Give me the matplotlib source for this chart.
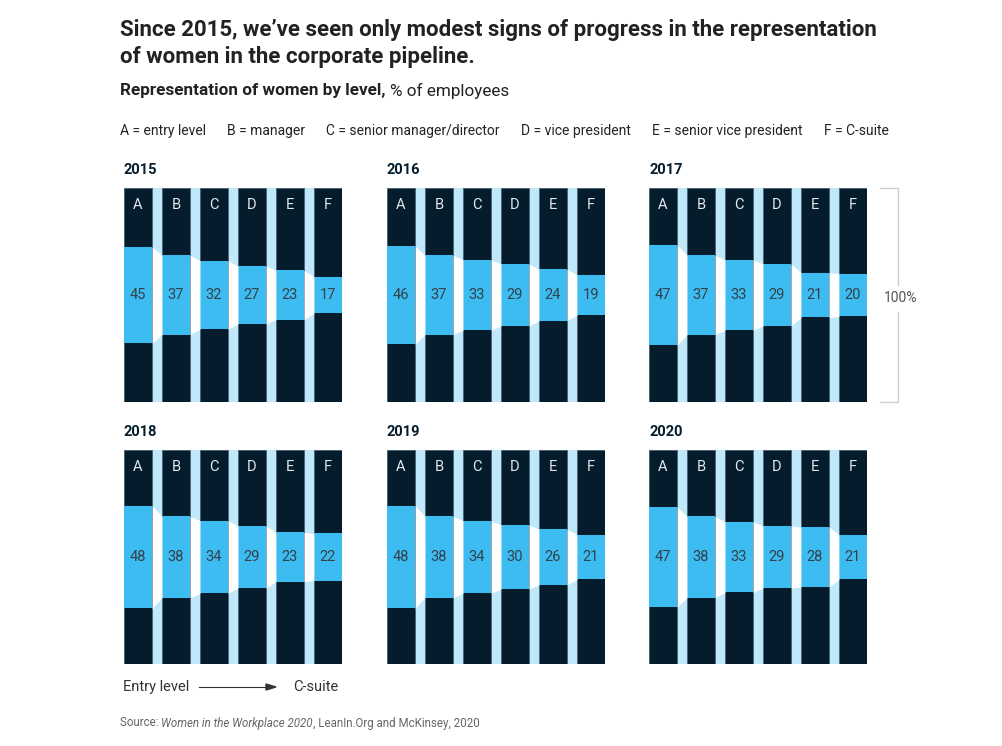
"""Representation of women by level, 2015-2020"""

import matplotlib.pyplot as plt

levels = ['A', 'B', 'C', 'D', 'E', 'F']
years = ['2015', '2016', '2017', '2018', '2019', '2020']
women_2015 = [45, 37, 32, 27, 23, 17]
women_2016 = [46, 37, 33, 29, 24, 19]
women_2017 = [47, 37, 33, 29, 21, 20]
women_2018 = [48, 38, 34, 29, 23, 22]
women_2019 = [48, 38, 34, 30, 26, 21]
women_2020 = [47, 38, 33, 29, 28, 21]
legend_items = ['A = entry level', 'B = manager', 'C = senior manager/director',
                'D = vice president', 'E = senior vice president', 'F = C-suite']

NAVY = '#051c2c'
BLUE = '#3cbcf0'
PALE = '#bfe9fb'
TEXT = '#222222'

plt.rcParams['font.family'] = ['Roboto', 'DejaVu Sans']

W, H = 1003, 746
fig = plt.figure(figsize=(W / 100, H / 100), dpi=100)
fig.canvas.draw()
renderer = fig.canvas.get_renderer()


def fx(px):
    return px / W


def fy(py):
    return 1 - py / H


def draw_panel(left, top, year, values):
    """one small multiple: six full-height bars with the women band centred"""
    width, height = 218, 214
    ax = fig.add_axes([fx(left), fy(top + height), width / W, height / H])
    bw = 0.74
    x = list(range(len(levels)))
    ax.set_facecolor(PALE)
    ax.bar(x, [100] * len(x), width=bw, color=NAVY, edgecolor='#4a6272', linewidth=0.6)
    lows = [50 - v / 2 for v in values]
    ax.bar(x, values, bottom=lows, width=bw, color=BLUE, linewidth=0)
    # white connectors between neighbouring bands
    for i in range(len(values) - 1):
        xa, xb = i + bw / 2, i + 1 - bw / 2
        ax.fill_between([xa, xb], [lows[i], lows[i + 1]],
                        [lows[i] + values[i], lows[i + 1] + values[i + 1]],
                        color='white', linewidth=0)
    for i, v in enumerate(values):
        ax.text(i, 50, str(v), ha='center', va='center', fontsize=10.5, color='#33414c')
        ax.text(i, 92, levels[i], ha='center', va='center', fontsize=10.5, color='#e3e9ee')
    ax.set_xlim(-bw / 2, len(x) - 1 + bw / 2)
    ax.set_ylim(0, 100)
    ax.set_xticks([])
    ax.set_yticks([])
    for s in ax.spines.values():
        s.set_visible(False)
    fig.text(fx(left), fy(top - 18), year, fontsize=10.5, fontweight='bold',
             color=NAVY, va='center', ha='left')
    return ax


all_values = [women_2015, women_2016, women_2017, women_2018, women_2019, women_2020]
lefts = [124, 387, 649]
tops = [188, 450]
for k, (yr, vals) in enumerate(zip(years, all_values)):
    draw_panel(lefts[k % 3], tops[k // 3], yr, vals)

# titles
fig.text(fx(120), fy(30), 'Since 2015, we\u2019ve seen only modest signs of progress in the representation',
         fontsize=16, fontweight='bold', color=TEXT, va='center')
fig.text(fx(120), fy(57), 'of women in the corporate pipeline.',
         fontsize=16, fontweight='bold', color=TEXT, va='center')

sub = fig.text(fx(120), fy(91), 'Representation of women by level, ', fontsize=12.3,
               fontweight='bold', color=TEXT, va='center')
ext = sub.get_window_extent(renderer)
fig.text(ext.x1 / W, fy(91), '% of employees', fontsize=12.3, color=TEXT, va='center')

# legend row, spread over the same width as in the original
items = [fig.text(0, fy(131), item, fontsize=10, color=TEXT, va='center')
         for item in legend_items]
widths = [t.get_window_extent(renderer).width for t in items]
gap = (889 - 120 - sum(widths)) / (len(items) - 1)
pos = 120
for t, w in zip(items, widths):
    t.set_x(fx(pos))
    pos += w + gap

# 100% bracket
bx = 898
fig.add_artist(plt.Line2D([fx(880), fx(bx), fx(bx)], [fy(188), fy(188), fy(285)],
                          color='#d0d0d0', linewidth=1))
fig.add_artist(plt.Line2D([fx(bx), fx(bx), fx(880)], [fy(312), fy(402), fy(402)],
                          color='#d0d0d0', linewidth=1))
fig.text(fx(901), fy(298), '100%', fontsize=10, color='#555555', va='center', ha='center')

# entry level -> C-suite
fig.text(fx(123), fy(687), 'Entry level', fontsize=10.5, color='#333333', va='center')
fig.text(fx(293), fy(687), 'C-suite', fontsize=10.5, color='#333333', va='center')
fig.add_artist(plt.Line2D([fx(199), fx(268)], [fy(687), fy(687)], color='#333333', linewidth=0.8))
fig.patches.append(plt.Polygon([[fx(266), fy(684)], [fx(276), fy(687)], [fx(266), fy(690)]],
                               closed=True, color='#333333', transform=fig.transFigure,
                               figure=fig))

# source
src = fig.text(fx(120), fy(723), 'Source: ', fontsize=8.3, color='#666666', va='center')
e1 = src.get_window_extent(renderer)
it = fig.text(e1.x1 / W, fy(723), 'Women in the Workplace 2020', fontsize=8.3,
              style='italic', color='#666666', va='center')
e2 = it.get_window_extent(renderer)
fig.text(e2.x1 / W, fy(723), ', LeanIn.Org and McKinsey, 2020', fontsize=8.3,
         color='#666666', va='center')

fig.savefig('out.png', dpi=100, facecolor='white')
